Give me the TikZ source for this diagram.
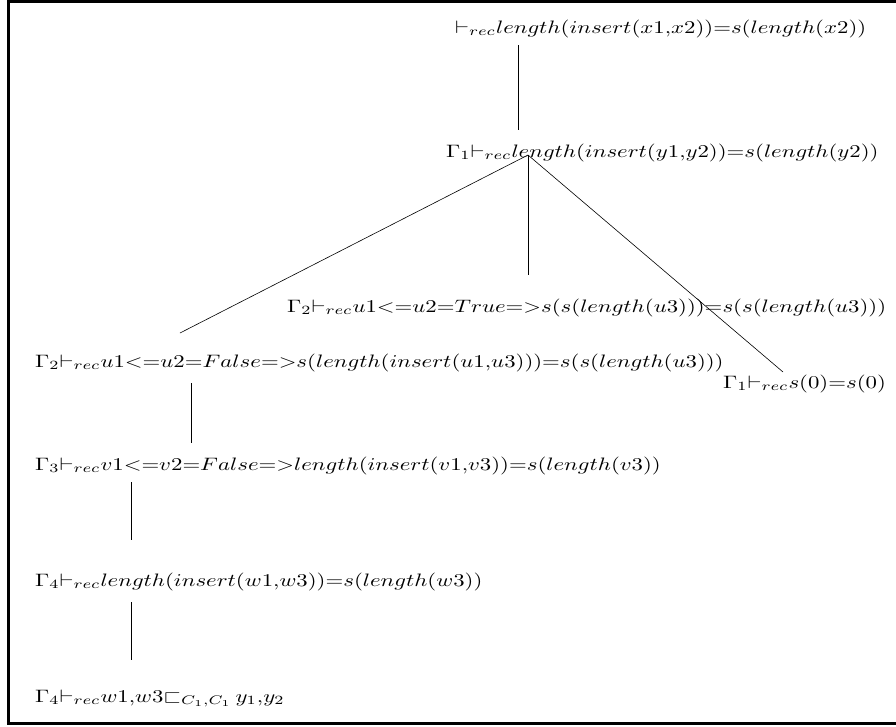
\documentclass[tikz,border=0pt]{standalone}
\usepackage{amssymb}
\usepackage{graphicx}
% sequents are set in wide math italic, enlarged from the normal size
\newcommand{\seqtext}[1]{\scalebox{2.28}[1.8]{$#1$}}
\begin{document}
\begin{tikzpicture}[x=1pt,y=-1pt,
  judg/.style={anchor=base west, inner sep=0pt},
  edge/.style={line width=0.6pt}]
\useasboundingbox (0,0) rectangle (896,726);
% open frame: top, left and bottom sides
\draw[line width=3pt] (905,1.5) -- (8,1.5) -- (8,723.5) -- (905,723.5);

\node[judg] (n1) at (455,33) {\seqtext{{\vdash}_{rec}length(insert(x1{,}x2)){=}s(length(x2))}};
\node[judg] (n2) at (446,157) {\seqtext{\Gamma_1{\vdash}_{rec}length(insert(y1{,}y2)){=}s(length(y2))}};
\node[judg] (n3) at (287,312) {\seqtext{\Gamma_2{\vdash}_{rec}u1{<}{=}u2{=}True{=}{>}s(s(length(u3))){=}s(s(length(u3)))}};
\node[judg] (n4) at (35,367) {\seqtext{\Gamma_2{\vdash}_{rec}u1{<}{=}u2{=}False{=}{>}s(length(insert(u1{,}u3))){=}s(s(length(u3)))}};
\node[judg] (n5) at (723,388) {\seqtext{\Gamma_1{\vdash}_{rec}s(0){=}s(0)}};
\node[judg] (n6) at (35,470) {\seqtext{\Gamma_3{\vdash}_{rec}v1{<}{=}v2{=}False{=}{>}length(insert(v1{,}v3)){=}s(length(v3))}};
\node[judg] (n7) at (35,586) {\seqtext{\Gamma_4{\vdash}_{rec}length(insert(w1{,}w3)){=}s(length(w3))}};
\node[judg] (n8) at (35,702) {\seqtext{\Gamma_4{\vdash}_{rec}w1{,}w3{\sqsubset}_{C_1{,}C_1}\,y_1{,}y_2}};

% connector end points
\coordinate (a1) at (518,45);   \coordinate (b2) at (518,130);
\coordinate (a2) at (528,155);
\coordinate (b4) at (180,333);  \coordinate (b3) at (528,275);  \coordinate (b5) at (783,372);
\coordinate (a4) at (191,383);  \coordinate (b6) at (191,443);
\coordinate (a6) at (131,482);  \coordinate (b7) at (131,540);
\coordinate (a7) at (131,602);  \coordinate (b8) at (131,660);

\draw[edge] (a1) -- (b2);
\draw[edge] (a2) -- (b4);
\draw[edge] (a2) -- (b3);
\draw[edge] (a2) -- (b5);
\draw[edge] (a4) -- (b6);
\draw[edge] (a6) -- (b7);
\draw[edge] (a7) -- (b8);
\end{tikzpicture}
\end{document}
